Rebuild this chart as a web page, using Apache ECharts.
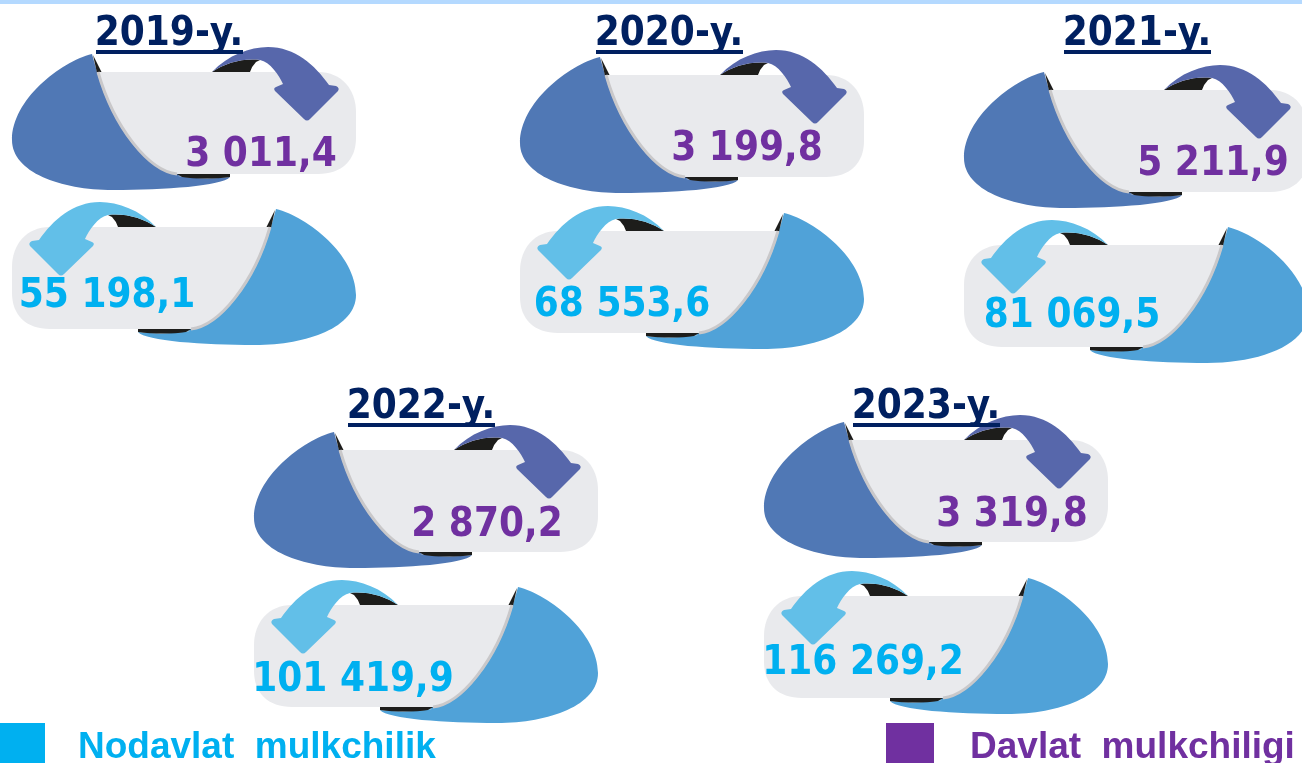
<!DOCTYPE html>
<html><head><meta charset="utf-8">
<style>html,body{margin:0;padding:0;background:#fff;overflow:hidden}#c{width:1302px;height:763px}</style>
<script src="https://cdn.jsdelivr.net/npm/echarts@6/dist/echarts.min.js"></script>
</head><body><div id="c"></div>
<script>
const years = ['2019-y.', '2020-y.', '2021-y.', '2022-y.', '2023-y.'];
const stateValues = [3011.4, 3199.8, 5211.9, 2870.2, 3319.8];
const privateValues = [55198.1, 68553.6, 81069.5, 101419.9, 116269.2];
const legendNames = ['Nodavlat  mulkchilik', 'Davlat  mulkchiligi'];

// page layout of each year's block (separate from values)
const layout = [
  {dx:0,   dy:0,   dyLow:155, tx:169, ty:31,  ax:261,  ay:152, bx:107, by:293},
  {dx:508, dy:3,   dyLow:159, tx:669, ty:31,  ax:747,  ay:146, bx:622, by:302},
  {dx:952, dy:18,  dyLow:173, tx:1137,ty:31,  ax:1213, ay:161, bx:1072,by:313},
  {dx:242, dy:378, dyLow:533, tx:421, ty:404, ax:487,  ay:522, bx:353, by:677},
  {dx:752, dy:368, dyLow:524, tx:926, ty:404, ax:1012, ay:512, bx:863, by:660}
];
const BLOB = 'M92 54 C60 62 12 100 12 140 C12 172 60 190 113 190 C165 190 222 186 230 177 C215 179 195 179 178 176 L200 170 L200 100 L97 72 Z';
const SLIVER_B = 'M175 173 L230 173 L230 177 C215 179 195 179 182 177 Z';
const SLIVER_T = 'M93 55 L97 73 L102 73 Z';
const PILL = 'M97 72 L318 72 C342 72 356 90 356 112 L356 138 C356 160 342 174 318 174 L177 174 C148 172 113 128 97 72 Z';
const EDGE = 'M98 72 C114 128 149 171 177 174';
const ARROW = 'M212 72 C228 55 250 47 268 47 C295 47 315 65 329 85 L336 86 Q340 88 338 91 L310 119 Q307 122 304 119 L275 91 Q273 88 276 87 L283 84 C279 75 270 62 260 60 C243 58 225 63 212 72 Z';
const BLACK = 'M212 72 C225 63 243 58 260 60 L256 62 Q252 66 250 72 Z';
const PURPLE = '#7030a0', CYAN = '#00b0f0', NAVY = '#002060';
const FONT = '"DejaVu Sans Condensed","DejaVu Sans",sans-serif';

function fmt(v){
  const s = v.toFixed(1).split('.');
  return s[0].replace(/\B(?=(\d{3})+$)/g,' ') + ',' + s[1];
}
function shapes(blob, arrow){
  const mk = (d, style) => ({type:'path', shape:{pathData:d}, style});
  return [
    mk(BLOB,{fill:blob}), mk(SLIVER_T,{fill:'#1d1d1b'}), mk(SLIVER_B,{fill:'#1d1d1b'}),
    mk(PILL,{fill:'#e9eaed'}), mk(EDGE,{fill:null,stroke:'#c9c8ca',lineWidth:3}),
    mk(BLACK,{fill:'#1d1d1b'}), mk(ARROW,{fill:arrow})
  ];
}
function label(text,x,y,fill){
  return {type:'text',style:{text,x,y:y+4,fill,fontFamily:FONT,fontWeight:'bold',fontSize:40,align:'center',verticalAlign:'middle'}};
}
function renderItem(params, api){
  const i = api.value(0), L = layout[i];
  const up = api.coord([L.dx, L.dy]), low = api.coord([L.dx+368, L.dyLow]);
  const tc = api.coord([L.tx, L.ty]);
  return {type:'group',children:[
    {type:'group',x:up[0],y:up[1],children:shapes('#5078b5','#5767ab')},
    {type:'group',x:low[0],y:low[1],scaleX:-1,children:shapes('#50a2d8','#62bfe8')},
    label(fmt(api.value(1)),...api.coord([L.ax,L.ay]),PURPLE),
    label(fmt(api.value(2)),...api.coord([L.bx,L.by]),CYAN),
    label(years[i],tc[0],tc[1],NAVY),
    {type:'rect',shape:{x:tc[0]-73,y:tc[1]+19,width:147,height:4},style:{fill:NAVY}}
  ]};
}
const chart = echarts.init(document.getElementById('c'),null,{renderer:'canvas',width:1302,height:763});
const legendText = (c,l) => ({rich:{a:{color:c,fontFamily:'"Liberation Sans",Arial,sans-serif',fontWeight:'bold',fontSize:37,lineHeight:30,padding:[10,0,0,l]}}});
chart.setOption({
  animation:false,
  backgroundColor:'#fff',
  graphic:[{type:'rect',shape:{x:0,y:0,width:1302,height:4},style:{fill:'#b4d9ff'},silent:true}],
  grid:{left:0,right:0,top:0,bottom:0},
  xAxis:{type:'value',min:0,max:1302,show:false},
  yAxis:{type:'value',min:0,max:763,inverse:true,show:false},
  legend:[
    {left:0,top:719.5,padding:0,itemWidth:45,itemHeight:40,icon:'rect',data:[legendNames[0]],selectedMode:false,formatter:'{a|{name}}',textStyle:legendText(CYAN,28)},
    {left:886,top:719.5,padding:0,itemWidth:48,itemHeight:40,icon:'rect',data:[legendNames[1]],selectedMode:false,formatter:'{a|{name}}',textStyle:legendText(PURPLE,31)}
  ],
  series:[
    {type:'custom',coordinateSystem:'cartesian2d',clip:false,silent:true,renderItem,
     data:years.map((y,i)=>[i,stateValues[i],privateValues[i]]),encode:{x:0,y:1}},
    {type:'custom',name:legendNames[0],itemStyle:{color:CYAN},renderItem:()=>null,data:[]},
    {type:'custom',name:legendNames[1],itemStyle:{color:PURPLE},renderItem:()=>null,data:[]}
  ]
});
</script></body></html>
